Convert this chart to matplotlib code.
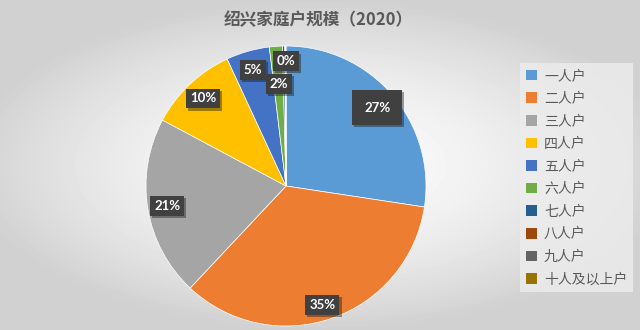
import numpy as np
import matplotlib.pyplot as plt
from matplotlib import patheffects as pe
from matplotlib.patches import Patch

plt.rcParams['font.family'] = ['Noto Sans CJK SC', 'DejaVu Sans']

labels = ['一人户', '二人户', '三人户', '四人户', '五人户',
          '六人户', '七人户', '八人户', '九人户', '十人及以上户']
shares = [27.4, 34.6, 20.8, 10.3, 5.0, 1.5, 0.25, 0.08, 0.04, 0.03]
pct_text = ['27%', '35%', '21%', '10%', '5%', '2%', '0%', '', '', '']
colors = ['#5B9BD5', '#ED7D31', '#A5A5A5', '#FFC000', '#4472C4',
          '#70AD47', '#255E91', '#9E480E', '#636363', '#997300']

fig = plt.figure(figsize=(6.4, 3.3), dpi=100)

# background gradient (light centre, grey edges)
bg = fig.add_axes([0, 0, 1, 1])
yy, xx = np.mgrid[-1:1:330j, -1:1:640j]
d = np.clip(np.sqrt((xx / 1.1) ** 2 + (yy / 1.0) ** 2), 0, 1)
shade = 0.99 - 0.17 * d ** 1.6
bg.imshow(shade, cmap='gray', vmin=0, vmax=1, aspect='auto', extent=[0, 1, 0, 1])
bg.axis('off')

ax = fig.add_axes([146 / 640, 4 / 330, 280 / 640, 280 / 330])
wedges, _ = ax.pie(shares, colors=colors, startangle=90, counterclock=False,
                   radius=1, wedgeprops=dict(edgecolor='white', linewidth=0.5))
ax.set_xlim(-1, 1)
ax.set_ylim(-1, 1)
ax.set_aspect('equal')
ax.axis('off')

for i, w in enumerate(wedges):
    if not pct_text[i]:
        continue
    ang = np.deg2rad((w.theta1 + w.theta2) / 2)
    r = 0.86
    x, y = r * np.cos(ang), r * np.sin(ang)
    if i == 1:
        x, y = 0.26, -0.85
    if i == 5:
        x, y = -0.05, 0.73
    if i == 6:
        x, y = 0.0, 0.89
    pad = 0.9 if i == 0 else 0.3
    t = ax.text(x, y, pct_text[i], ha='center', va='center', color='white',
                fontsize=9.5, fontweight='bold', family='Lato',
                bbox=dict(boxstyle='square,pad=%s' % pad, fc='#404040', ec='none'))
    t.get_bbox_patch().set_path_effects([pe.SimplePatchShadow(offset=(1.5, -1.5), alpha=0.4), pe.Normal()])

fig.text(0.497, 0.94, '绍兴家庭户规模（2020）', ha='center', va='center',
         fontsize=12, fontweight='bold', color='#595959')

handles = [Patch(facecolor=c, edgecolor='none') for c in colors]
leg = fig.legend(handles, labels, loc='upper left', bbox_to_anchor=(0.813, 0.808),
                 frameon=True, fontsize=10, handlelength=0.8, handleheight=0.8,
                 handletextpad=0.5, labelspacing=0.62, borderpad=0.4,
                 fancybox=False, borderaxespad=0)
leg.get_frame().set_facecolor('#EDEDED')
leg.get_frame().set_edgecolor('none')
leg.get_frame().set_alpha(0.8)
for txt in leg.get_texts():
    txt.set_color('#595959')

fig.savefig('out.png', dpi=100)
